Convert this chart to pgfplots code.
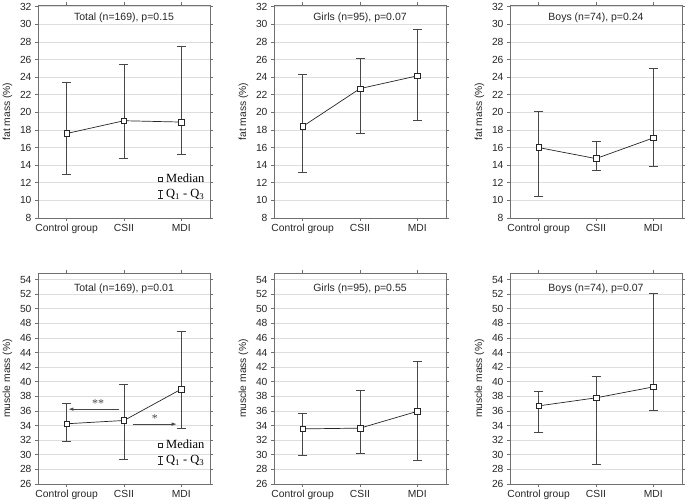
\documentclass[border=0pt]{standalone}
\usepackage{pgfplots}
\pgfplotsset{compat=1.18}
\usepackage{pgfplotstable}
\usepackage{fontspec}
\setmainfont{Liberation Sans}
\newfontfamily\tnr{Liberation Serif}
\usetikzlibrary{arrows.meta}

\definecolor{framec}{HTML}{707070}
\definecolor{gridc}{HTML}{DEDEDE}
\definecolor{barc}{HTML}{474747}
\definecolor{linec}{HTML}{262626}

\pgfplotstableread{
x med q1 q3
0 17.6 12.9 23.4
1 19.05 14.75 25.4
2 18.9 15.25 27.5
}\fatTotal
\pgfplotstableread{
x med q1 q3
0 18.4 13.2 24.3
1 22.7 17.6 26.15
2 24.15 19.1 29.45
}\fatGirls
\pgfplotstableread{
x med q1 q3
0 16.0 10.4 20.1
1 14.75 13.35 16.7
2 17.1 13.9 25.0
}\fatBoys
\pgfplotstableread{
x med q1 q3
0 34.25 31.8 37.0
1 34.7 29.3 39.7
2 39.0 33.6 46.9
}\musTotal
\pgfplotstableread{
x med q1 q3
0 33.55 29.9 35.6
1 33.65 30.2 38.8
2 35.95 29.2 42.8
}\musGirls
\pgfplotstableread{
x med q1 q3
0 36.7 33.1 38.65
1 37.8 28.65 40.7
2 39.3 36.1 52.15
}\musBoys

\pgfplotsset{
  panel/.style={
    scale only axis, width=172pt,
    xmin=-0.5, xmax=2.5, xtick={0,1,2},
    xticklabels={Control group,CSII,MDI},
    ymajorgrids, grid style={gridc, line width=0.7pt},
    axis line style={framec, line width=0.7pt},
    tick style={framec, line width=0.6pt},
    major tick length=3pt, tick align=outside, tick pos=both,
    ytick distance=2,
    tick label style={font=\fontsize{10.3}{12}\selectfont, text=black!85},
    /pgf/number format/assume math mode=true,
    every axis y label/.style={at={(axis description cs:-0.178,0.5)}, rotate=90, anchor=center, font=\fontsize{10.3}{12}\selectfont, text=black!85},
    title style={at={(0.5,1)}, anchor=north, yshift=-10pt, font=\fontsize{10.5}{12}\selectfont, text=black!85},
    legend style={draw=none, fill=none, at={(0.98,0.08)}, anchor=south east, font=\tnr\fontsize{12.5}{14}\selectfont, row sep=1pt, inner sep=0pt, /tikz/every odd column/.append style={column sep=1pt}},
    legend cell align=left,
  },
  toprow/.style={panel, height=213pt, ymin=8, ymax=32.2, ylabel={fat mass (\%)}},
  botrow/.style={panel, height=211pt, ymin=26, ymax=54.9, ylabel={muscle mass (\%)}, title style={yshift=-3pt}},
}

\newcommand{\panelplots}[1]{%
  \addplot[forget plot, only marks, mark=none,
    error bars/.cd, y dir=both, y explicit,
    error bar style={barc, line width=0.9pt},
    error mark options={rotate=90, barc, line width=0.9pt, mark size=4.5pt}]
    table[x=x, y=med, y error plus expr=\thisrow{q3}-\thisrow{med}, y error minus expr=\thisrow{med}-\thisrow{q1}] {#1};
  \addplot[forget plot, linec, line width=0.7pt, mark=square*,
    mark options={fill=white, mark size=2.8pt, line width=0.6pt, solid}]
    table[x=x, y=med] {#1};
}
\newcommand{\legendimgs}{%
  \addlegendimage{only marks, mark=square*, mark options={linec, fill=white, mark size=2pt, line width=0.5pt}}
  \addlegendentry{Median}
  \addlegendimage{legend image code/.code={\draw[linec, line width=0.6pt] (0.3cm,-4pt)--(0.3cm,4pt) (0.22cm,-4pt)--(0.38cm,-4pt) (0.22cm,4pt)--(0.38cm,4pt);}}
  \addlegendentry{Q\textsubscript{1} - Q\textsubscript{3}}
}

\begin{document}
\begin{tikzpicture}
\path[use as bounding box] (0,0) rectangle (685pt,503pt);

\begin{axis}[toprow, at={(38pt,285pt)}, anchor=south west, title={Total (n=169), p=0.15}]
\legendimgs
\panelplots{\fatTotal}
\end{axis}

\begin{axis}[toprow, at={(274pt,285pt)}, anchor=south west, title={Girls (n=95), p=0.07}]
\panelplots{\fatGirls}
\end{axis}

\begin{axis}[toprow, at={(510pt,285pt)}, anchor=south west, title={Boys (n=74), p=0.24}]
\panelplots{\fatBoys}
\end{axis}

\begin{axis}[botrow, at={(38pt,19pt)}, anchor=south west, title={Total (n=169), p=0.01}]
\legendimgs
\panelplots{\musTotal}
\draw[barc, line width=0.8pt, -{Latex[length=5pt,width=3.5pt]}] (axis cs:0.92,36.25) -- (axis cs:0.03,36.25);
\node[font=\tnr\fontsize{12}{14}\selectfont, text=barc] at (axis cs:0.55,37.0) {**};
\draw[barc, line width=0.8pt, -{Latex[length=5pt,width=3.5pt]}] (axis cs:1.15,34.2) -- (axis cs:1.92,34.2);
\node[font=\tnr\fontsize{12}{14}\selectfont, text=barc] at (axis cs:1.54,35.0) {*};
\end{axis}

\begin{axis}[botrow, at={(274pt,19pt)}, anchor=south west, title={Girls (n=95), p=0.55}]
\panelplots{\musGirls}
\end{axis}

\begin{axis}[botrow, at={(510pt,19pt)}, anchor=south west, title={Boys (n=74), p=0.07}]
\panelplots{\musBoys}
\end{axis}
\end{tikzpicture}
\end{document}
